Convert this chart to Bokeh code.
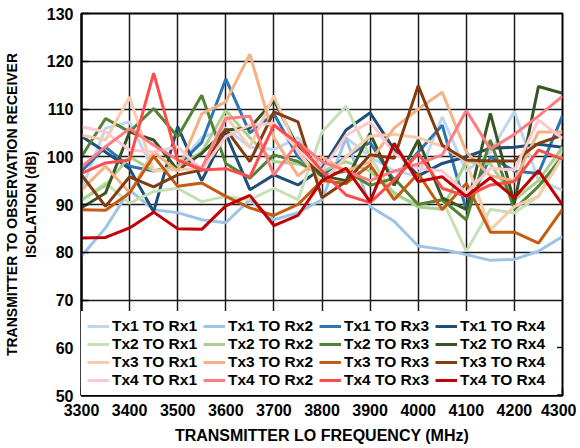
from bokeh.plotting import figure
from bokeh.models import Legend, LegendItem, Range1d, FixedTicker
from bokeh.embed import file_html
from bokeh.resources import INLINE

freq = list(range(3300, 4301, 50))

labels = ["Tx1 TO Rx1", "Tx1 TO Rx2", "Tx1 TO Rx3", "Tx1 TO Rx4",
          "Tx2 TO Rx1", "Tx2 TO Rx2", "Tx2 TO Rx3", "Tx2 TO Rx4",
          "Tx3 TO Rx1", "Tx3 TO Rx2", "Tx3 TO Rx3", "Tx3 TO Rx4",
          "Tx4 TO Rx1", "Tx4 TO Rx2", "Tx4 TO Rx3", "Tx4 TO Rx4"]

colors = ["#bdd7ee", "#9dc3e6", "#2e75b6", "#1f4e79",
          "#c5e0b4", "#a9d18e", "#548235", "#375623",
          "#f8cbad", "#f4b183", "#c55a11", "#843c0c",
          "#ffc7ce", "#ff7c80", "#ff4b4b", "#c00000"]

tx1_rx1 = [93, 106, 107.3, 97, 98, 104, 106, 102, 101.5, 104, 98, 104, 100, 97, 96, 108.3, 97, 101, 109.5, 95, 93]
tx1_rx2 = [79.2, 85.1, 93, 88.9, 88.3, 86.8, 86.2, 91, 86.8, 88.3, 91, 103.9, 89.6, 86.5, 81.3, 80.6, 79.5, 78.3, 78.5, 80.2, 83.3]
tx1_rx3 = [97, 102, 98, 97, 98, 103, 116.3, 105, 109, 100, 96, 100, 103, 95, 101, 106.6, 88.9, 100, 97, 96.5, 108.6]
tx1_rx4 = [104.3, 101, 97.5, 88.5, 106.3, 95, 104.9, 93.1, 96.2, 94.1, 97.6, 105.6, 109.2, 101.5, 96, 98.6, 100, 101.8, 102, 102.6, 102]
tx2_rx1 = [90.8, 94.5, 90.3, 92.7, 93.4, 90.6, 91.7, 91, 93.4, 91, 105.2, 110.6, 100, 92, 90, 91, 80.2, 89, 88.2, 91.7, 101.4]
tx2_rx2 = [91, 94, 100, 97, 98, 101, 109.7, 104, 99, 98.5, 97, 99, 97, 92.5, 89.5, 89, 99, 98.5, 91, 95, 102]
tx2_rx3 = [100, 108, 105.2, 110.1, 104.2, 112.9, 98.6, 95.5, 100.4, 99, 96, 97, 94, 95.5, 90, 91, 86.8, 103.5, 89, 93.8, 100]
tx2_rx4 = [89.3, 92.4, 105.2, 103.5, 97.2, 100.7, 105.6, 106, 111.8, 102, 96, 95, 104.9, 94, 103.5, 91.4, 89, 109.1, 90.3, 114.7, 113.3]
tx3_rx1 = [104.5, 103.5, 112.5, 97, 97.3, 97.5, 108.5, 102, 112.8, 101, 94.5, 100, 104.3, 104.7, 104, 102.2, 99, 84.7, 89.6, 91.7, 100]
tx3_rx2 = [93, 98, 92.5, 101, 97, 109, 111.5, 121.5, 104, 96, 100, 97, 99, 106, 110, 113.5, 101, 96, 95, 105.2, 105.2]
tx3_rx3 = [88.9, 88.8, 92.4, 100.1, 93.8, 94.5, 91.7, 89.3, 87.7, 90, 95, 94.4, 98.3, 91, 96.5, 88.9, 94.4, 84.2, 84.2, 81.9, 89]
tx3_rx4 = [96.2, 89.6, 95.8, 93.7, 96.2, 97.2, 105.8, 99, 109.4, 107.3, 91.4, 94.8, 100.4, 99.7, 114.9, 102.4, 99.3, 99.1, 99.1, 102.8, 104.5]
tx4_rx1 = [106.3, 105.2, 101.4, 101, 102.1, 97.2, 104.2, 106.6, 107, 101.5, 97, 104.5, 107.3, 100.7, 97.6, 97, 92.4, 97.6, 97.2, 107.7, 103.8]
tx4_rx2 = [97.9, 102.1, 105.9, 102.4, 99.3, 97.6, 108, 108.5, 96.2, 103, 99, 97, 95, 97, 98.5, 100.4, 109.7, 101.6, 104.7, 108.5, 112.7]
tx4_rx3 = [96.5, 98.7, 99.3, 117.5, 99.3, 97.2, 97.5, 95.8, 106.6, 102.8, 97, 92, 90.4, 95.1, 100.7, 93.4, 91.7, 94.1, 94.8, 101.4, 99.5]
tx4_rx4 = [83, 83.1, 85.1, 88.4, 84.9, 84.8, 89.7, 91.9, 85.6, 87.7, 95, 97.6, 90.6, 102.8, 94.8, 95.8, 91.7, 95.6, 91.4, 97.1, 89.9]

data = [tx1_rx1, tx1_rx2, tx1_rx3, tx1_rx4,
        tx2_rx1, tx2_rx2, tx2_rx3, tx2_rx4,
        tx3_rx1, tx3_rx2, tx3_rx3, tx3_rx4,
        tx4_rx1, tx4_rx2, tx4_rx3, tx4_rx4]

x_ticks = list(range(3300, 4301, 100))
y_ticks = list(range(50, 131, 10))

FONT = "Liberation Sans"

p = figure(width=576, height=446, output_backend="svg", toolbar_location=None,
           x_range=Range1d(3300, 4300), y_range=Range1d(50, 130),
           min_border_left=81, min_border_right=14, min_border_top=13, min_border_bottom=49)

renderers = []
for lab, col, ys in zip(labels, colors, data):
    r = p.line(freq, ys, line_color=col, line_width=3)
    renderers.append(r)

# legend filled column by column: reorder so rows read Tx1.., Tx2.., ...
items = []
for c in range(4):
    for rrow in range(4):
        k = rrow * 4 + c
        items.append(LegendItem(label=labels[k], renderers=[renderers[k]]))

for ax in (p.xaxis[0], p.yaxis[0]):
    ax.major_label_text_font = FONT
    ax.major_label_text_font_style = "bold"
    ax.major_label_text_font_size = "16px"
    ax.major_label_text_color = "black"
    ax.axis_label_text_font = FONT
    ax.axis_label_text_font_style = "bold"
    ax.axis_label_text_color = "black"
    ax.axis_line_color = "black"
    ax.axis_line_width = 2
    ax.major_tick_in = 7
    ax.major_tick_out = 0
    ax.minor_tick_line_color = None
    ax.major_tick_line_color = "black"
    ax.major_tick_line_width = 1.5

p.xaxis.ticker = FixedTicker(ticks=x_ticks)
p.yaxis.ticker = FixedTicker(ticks=y_ticks)
p.xaxis.axis_label = "TRANSMITTER LO FREQUENCY (MHz)"
p.yaxis.axis_label = "TRANSMITTER TO OBSERVATION RECEIVER\nISOLATION (dB)"
p.xaxis.axis_label_text_font_size = "16px"
p.yaxis.axis_label_text_font_size = "14px"
p.xaxis.axis_label_standoff = 8
p.yaxis.axis_label_standoff = 5
p.xaxis.major_label_standoff = 8
p.yaxis.major_label_standoff = 8

p.xgrid.ticker = FixedTicker(ticks=x_ticks)
p.ygrid.ticker = FixedTicker(ticks=y_ticks)
p.grid.grid_line_color = "#1a1a1a"
p.grid.grid_line_width = 1.5
p.outline_line_color = "black"
p.outline_line_width = 2
p.background_fill_color = "white"
p.border_fill_color = "white"

legend = Legend(items=items, ncols=4, location=(0, 0),
                label_text_font=FONT, label_text_font_style="bold",
                label_text_font_size="15.5px", label_text_color="black",
                label_height=14, label_width=91, glyph_height=14, glyph_width=22,
                label_standoff=3, spacing=0, padding=6, margin=0,
                border_line_alpha=0, background_fill_color="white",
                background_fill_alpha=1.0)
p.add_layout(legend, "center")

open("out.html", "w").write(file_html(p, INLINE))
